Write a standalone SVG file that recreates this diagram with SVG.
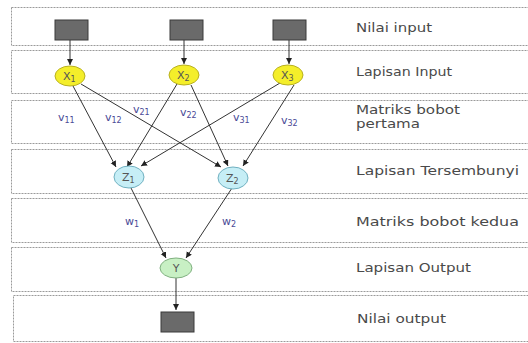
<svg xmlns="http://www.w3.org/2000/svg" width="528" height="343" viewBox="0 0 528 343">
<defs>
<style>
.band{fill:#fff;stroke:#9a9a9a;stroke-width:1;stroke-dasharray:2 1}
.sq{fill:#6a6a6a;stroke:#3a3a3a;stroke-width:1}
.xn{fill:#f4ee2a;stroke:#b8b020;stroke-width:1}
.zn{fill:#c6eef6;stroke:#6fb0c0;stroke-width:1}
.yn{fill:#c8f0c4;stroke:#80b080;stroke-width:1}
.lbl{font-family:"DejaVu Sans",Verdana,sans-serif;font-size:12px;fill:#4a4a4a}
.nt{font-family:"DejaVu Sans",Verdana,sans-serif;font-size:11px;fill:#555}
.wt{font-family:"DejaVu Sans",Verdana,sans-serif;font-size:11px;fill:#4a4a96}
.sub{font-size:8px}
.edge{stroke:#333;stroke-width:1;fill:none;marker-end:url(#ah)}
</style>
<marker id="ah" markerWidth="8" markerHeight="8" refX="6" refY="3" orient="auto" markerUnits="userSpaceOnUse">
<path d="M0,0 L6,3 L0,6 z" fill="#222"/>
</marker>
</defs>
<rect width="528" height="343" fill="#fff"/>
<g id="bands">
<rect class="band" x="11.5" y="7.5" width="530" height="38"/>
<rect class="band" x="11.5" y="50.5" width="530" height="43"/>
<rect class="band" x="11.5" y="100.5" width="530" height="43"/>
<rect class="band" x="11.5" y="149.5" width="530" height="44"/>
<rect class="band" x="11.5" y="198.5" width="530" height="44"/>
<rect class="band" x="11.5" y="247.5" width="530" height="44"/>
<rect class="band" x="13.5" y="295.5" width="530" height="46"/>
</g>
<g id="band-labels">
<text class="lbl" x="356" y="32" textLength="76" lengthAdjust="spacingAndGlyphs">Nilai input</text>
<text class="lbl" x="356" y="76" textLength="96" lengthAdjust="spacingAndGlyphs">Lapisan Input</text>
<text class="lbl" x="356" y="114" textLength="104" lengthAdjust="spacingAndGlyphs">Matriks bobot</text>
<text class="lbl" x="356" y="128" textLength="64" lengthAdjust="spacingAndGlyphs">pertama</text>
<text class="lbl" x="356" y="175" textLength="163" lengthAdjust="spacingAndGlyphs">Lapisan Tersembunyi</text>
<text class="lbl" x="356" y="226" textLength="163" lengthAdjust="spacingAndGlyphs">Matriks bobot kedua</text>
<text class="lbl" x="356" y="272" textLength="115" lengthAdjust="spacingAndGlyphs">Lapisan Output</text>
<text class="lbl" x="357" y="323" textLength="89" lengthAdjust="spacingAndGlyphs">Nilai output</text>
</g>
<g id="connectors">
<line class="edge" x1="70" y1="40" x2="70" y2="65"/>
<line class="edge" x1="184" y1="40" x2="184" y2="64"/>
<line class="edge" x1="289" y1="40" x2="289" y2="64"/>
<line class="edge" x1="73" y1="86" x2="116" y2="167"/>
<line class="edge" x1="81" y1="84" x2="221" y2="167"/>
<line class="edge" x1="177" y1="84" x2="127" y2="167"/>
<line class="edge" x1="191" y1="85" x2="228" y2="166"/>
<line class="edge" x1="280" y1="83" x2="141" y2="166"/>
<line class="edge" x1="294" y1="85" x2="243" y2="166"/>
<line class="edge" x1="131" y1="188" x2="166" y2="258"/>
<line class="edge" x1="232" y1="188" x2="186" y2="258"/>
<line class="edge" x1="176" y1="278" x2="176" y2="310"/>
</g>
<g id="weights">
<text class="wt" x="58" y="121">v<tspan class="sub" dy="2">11</tspan></text>
<text class="wt" x="105" y="121">v<tspan class="sub" dy="2">12</tspan></text>
<text class="wt" x="133" y="113">v<tspan class="sub" dy="2">21</tspan></text>
<text class="wt" x="180" y="116">v<tspan class="sub" dy="2">22</tspan></text>
<text class="wt" x="233" y="121">v<tspan class="sub" dy="2">31</tspan></text>
<text class="wt" x="281" y="124">v<tspan class="sub" dy="2">32</tspan></text>
<text class="wt" x="125" y="225">w<tspan class="sub" dy="2">1</tspan></text>
<text class="wt" x="222" y="225">w<tspan class="sub" dy="2">2</tspan></text>
</g>
<g id="in1"><rect class="sq" x="55" y="20" width="33" height="20"/></g>
<g id="in2"><rect class="sq" x="170" y="20" width="33" height="20"/></g>
<g id="in3"><rect class="sq" x="273" y="20" width="33" height="20"/></g>
<g id="x1"><ellipse class="xn" cx="70" cy="76" rx="15" ry="10"/><text class="nt" x="63" y="80">X<tspan class="sub" dy="2">1</tspan></text></g>
<g id="x2"><ellipse class="xn" cx="184" cy="75" rx="15" ry="10"/><text class="nt" x="177" y="79">X<tspan class="sub" dy="2">2</tspan></text></g>
<g id="x3"><ellipse class="xn" cx="288" cy="75" rx="15" ry="10"/><text class="nt" x="281" y="79">X<tspan class="sub" dy="2">3</tspan></text></g>
<g id="z1"><ellipse class="zn" cx="129" cy="177" rx="15" ry="11"/><text class="nt" x="122" y="181">Z<tspan class="sub" dy="2">1</tspan></text></g>
<g id="z2"><ellipse class="zn" cx="233" cy="178" rx="15" ry="11"/><text class="nt" x="226" y="182">Z<tspan class="sub" dy="2">2</tspan></text></g>
<g id="y"><ellipse class="yn" cx="176" cy="268" rx="16" ry="10"/><text class="nt" x="176" y="272" text-anchor="middle">Y</text></g>
<g id="out"><rect class="sq" x="161" y="312" width="33" height="20"/></g>
</svg>
